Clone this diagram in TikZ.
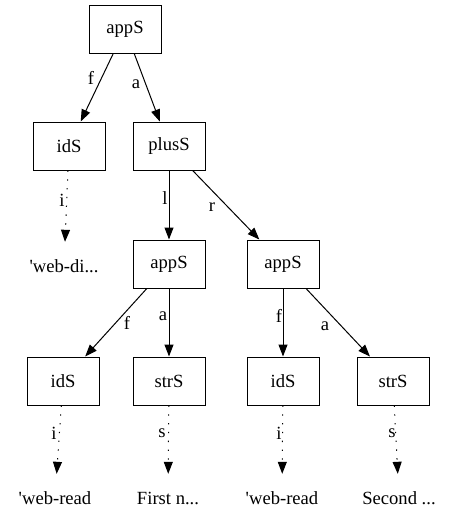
\documentclass[tikz,border=0pt]{standalone}
\usepackage{fontspec}
\setmainfont{Liberation Serif}
\usetikzlibrary{arrows.meta}
\begin{document}
\begin{tikzpicture}[x=1pt,y=-1pt,
  txt/.style={font=\fontsize{18.6}{20}\selectfont},
  box/.style={txt,draw,line width=1pt,minimum width=72pt,minimum height=48pt,inner sep=0pt},
  lit/.style={txt,minimum width=72pt,minimum height=48pt,inner sep=0pt},
  edge/.style={-{Triangle[length=12pt,width=9pt]},line width=1pt},
  dotedge/.style={edge,dash pattern=on 1.3pt off 7.5pt},
  lab/.style={txt,inner sep=0pt}]
\useasboundingbox (0,0) rectangle (458,528);
\node[box] (n0) at (125,29) {appS};
\node[box] (n1) at (69,146) {idS};
\node[box] (n2) at (169,146) {plusS};
\node[lit] (t1) at (64,266) {\textquotesingle web-di...};
\node[box] (n3) at (169,264) {appS};
\node[box] (n4) at (283,264) {appS};
\node[box] (n5) at (63,381) {idS};
\node[box] (n6) at (169,381) {strS};
\node[box] (n7) at (283,381) {idS};
\node[box] (n8) at (393,381) {strS};
\node[lit] (t5) at (55,498) {\textquotesingle web-read};
\node[lit] (t6) at (168,498) {First n...};
\node[lit] (t7) at (282,498) {\textquotesingle web-read};
\node[lit] (t8) at (399,498) {Second ...};

\draw[edge] (n0) -- (n1);
\draw[edge] (n0) -- (n2);
\draw[dotedge] (n1) -- (t1);
\draw[edge] (n2) -- (n3);
\draw[edge] (n2) -- (n4);
\draw[edge] (n3) -- (n5);
\draw[edge] (n3) -- (n6);
\draw[edge] (n4) -- (n7);
\draw[edge] (n4) -- (n8);
\draw[dotedge] (n5) -- (t5);
\draw[dotedge] (n6) -- (t6);
\draw[dotedge] (n7) -- (t7);
\draw[dotedge] (n8) -- (t8);

\node[lab] (l1) at (91,78) {f};
\node[lab] (l2) at (136,84) {a};
\node[lab] (l3) at (62,200) {i};
\node[lab] (l4) at (165,198) {l};
\node[lab] (l5) at (212,207) {r};
\node[lab] (l6) at (127,323) {f};
\node[lab] (l7) at (163,316) {a};
\node[lab] (l8) at (279,316) {f};
\node[lab] (l9) at (325,326) {a};
\node[lab] (l10) at (54,433) {i};
\node[lab] (l11) at (162,433) {s};
\node[lab] (l12) at (279,433) {i};
\node[lab] (l13) at (392,433) {s};
\end{tikzpicture}
\end{document}
